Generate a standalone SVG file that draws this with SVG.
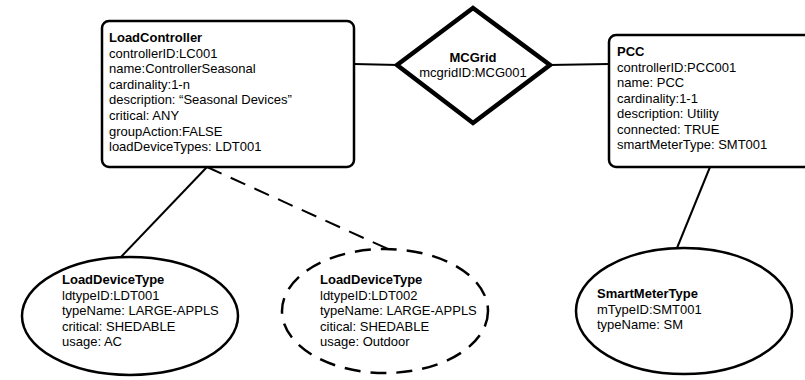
<svg xmlns="http://www.w3.org/2000/svg" width="805" height="380" viewBox="0 0 805 380">
<style>
text{font-family:"Liberation Sans",Arial,sans-serif;font-size:13px;fill:#000}
.b{font-weight:bold}
.box{fill:#fff;stroke:#000;stroke-width:2.5}
.dia{fill:#fff;stroke:#000;stroke-width:4.5;stroke-linejoin:miter}
.ell{fill:#fff;stroke:#000;stroke-width:2.5}
.dash{stroke-dasharray:16 10}
.ln{stroke:#000;stroke-width:2;fill:none}
</style>
<rect width="805" height="380" fill="#fff"/>
<g id="connectors">
<line class="ln" x1="354" y1="64" x2="398" y2="65"/>
<line class="ln" x1="549" y1="65" x2="609" y2="64"/>
<line class="ln" x1="207" y1="167" x2="120" y2="258"/>
<line class="ln" x1="710" y1="167" x2="677" y2="248"/>
<path class="ln" d="M207 167 L388 249" stroke-dasharray="16 10"/>
</g>
<g id="LoadController">
<rect class="box" x="102" y="21" width="252" height="146" rx="7"/>
<text x="109" y="42" class="b">LoadController</text>
<text x="109" y="57.6">controllerID:LC001</text>
<text x="109" y="73.2">name:ControllerSeasonal</text>
<text x="109" y="88.8">cardinality:1-n</text>
<text x="109" y="104.4">description: “Seasonal Devices”</text>
<text x="109" y="120">critical: ANY</text>
<text x="109" y="135.6">groupAction:FALSE</text>
<text x="109" y="151.2">loadDeviceTypes: LDT001</text>
</g>
<g id="MCGrid">
<polygon class="dia" points="473,8 550,65 473,123 397,65"/>
<text x="473" y="62" class="b" text-anchor="middle">MCGrid</text>
<text x="473" y="77" text-anchor="middle">mcgridID:MCG001</text>
</g>
<g id="PCC">
<rect class="box" x="609" y="35" width="205" height="132" rx="7"/>
<text x="617" y="56" class="b">PCC</text>
<text x="617" y="71.5">controllerID:PCC001</text>
<text x="617" y="87">name: PCC</text>
<text x="617" y="102.5">cardinality:1-1</text>
<text x="617" y="118">description: Utility</text>
<text x="617" y="133.5">connected: TRUE</text>
<text x="617" y="149">smartMeterType: SMT001</text>
</g>
<g id="LoadDeviceType1">
<ellipse class="ell" cx="130" cy="316" rx="108" ry="59"/>
<text x="62" y="284" class="b">LoadDeviceType</text>
<text x="62" y="299.5">ldtypeID:LDT001</text>
<text x="62" y="315">typeName: LARGE-APPLS</text>
<text x="62" y="330.5">critical: SHEDABLE</text>
<text x="62" y="346">usage: AC</text>
</g>
<g id="LoadDeviceType2">
<ellipse class="ell dash" cx="385" cy="311" rx="103" ry="62"/>
<text x="320" y="284" class="b">LoadDeviceType</text>
<text x="320" y="299.5">ldtypeID:LDT002</text>
<text x="320" y="315">typeName: LARGE-APPLS</text>
<text x="320" y="330.5">citical: SHEDABLE</text>
<text x="320" y="346">usage: Outdoor</text>
</g>
<g id="SmartMeterType">
<ellipse class="ell" cx="684" cy="311" rx="108" ry="63"/>
<text x="597" y="298" class="b">SmartMeterType</text>
<text x="597" y="313.5">mTypeID:SMT001</text>
<text x="597" y="329">typeName: SM</text>
</g>
</svg>
